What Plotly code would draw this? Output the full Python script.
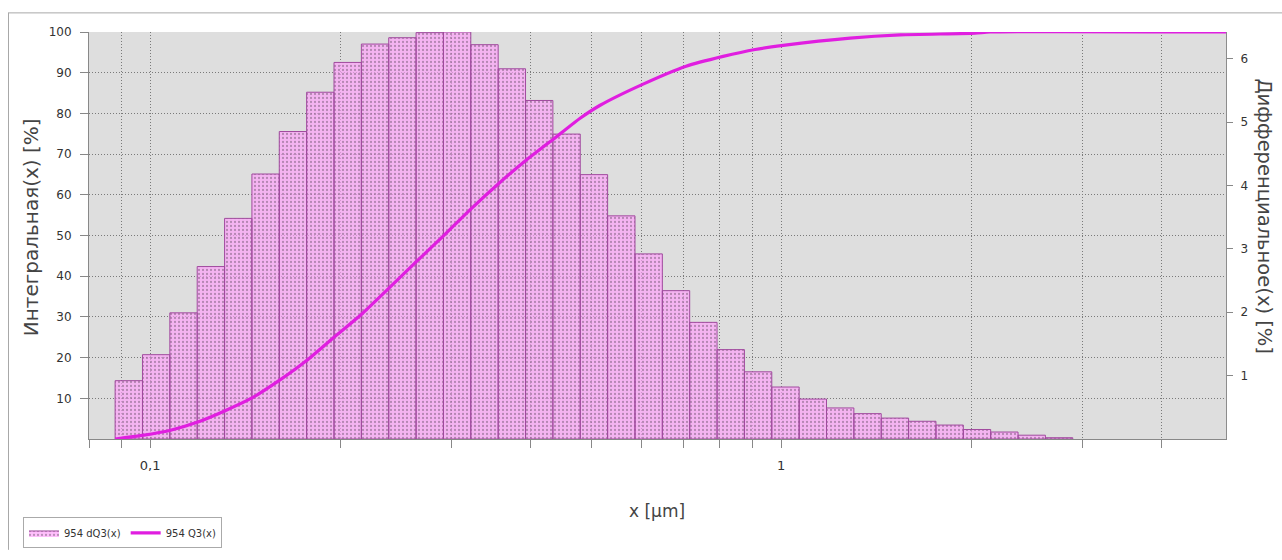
import math
import plotly.graph_objects as go

# ---- data ----
bin_edges_um = [0.08800, 0.09724, 0.10745, 0.11873, 0.13120, 0.14497, 0.16019, 0.17701,
                0.19560, 0.21614, 0.23883, 0.26391, 0.29162, 0.32224, 0.35608, 0.39347,
                0.43478, 0.48043, 0.53088, 0.58662, 0.64822, 0.71628, 0.79149, 0.87460,
                0.96643, 1.06791, 1.18004, 1.30394, 1.44085, 1.59214, 1.75932, 1.94405,
                2.14818, 2.37374, 2.62298, 2.89839]
dq3_values = [0.92, 1.33, 1.99, 2.72, 3.48, 4.18, 4.85, 5.47, 5.94, 6.23, 6.33, 6.41,
              6.42, 6.22, 5.84, 5.34, 4.81, 4.17, 3.52, 2.92, 2.34, 1.84, 1.41, 1.06,
              0.82, 0.63, 0.49, 0.40, 0.33, 0.28, 0.22, 0.15, 0.11, 0.06, 0.02]
q3_x_um = [0.0880, 0.0972, 0.1074, 0.1187, 0.1312, 0.1450, 0.1602, 0.1770, 0.1956,
           0.2161, 0.2388, 0.2639, 0.2916, 0.3222, 0.3587, 0.3929, 0.4416, 0.4802,
           0.5166, 0.6043, 0.7070, 0.8091, 0.9094, 1.0073, 1.286, 1.544, 2.029, 2.144, 5.07]
q3_values = [0.0, 0.9, 2.1, 4.1, 6.9, 10.1, 14.4, 19.3, 25.0, 30.6, 37.0, 43.5, 49.9,
             56.5, 63.1, 68.3, 74.4, 78.8, 82.0, 87.2, 91.6, 94.0, 95.7, 96.7, 98.5,
             99.3, 99.7, 100.0, 100.0]
x_grid_vals = [0.08, 0.09, 0.1, 0.2, 0.3, 0.4, 0.5, 0.6, 0.7, 0.8, 0.9, 1, 2, 3, 4]
x_tick_text = ["", "", "0,1", "", "", "", "", "", "", "", "", "1", "", "", ""]
left_ticks = [10, 20, 30, 40, 50, 60, 70, 80, 90, 100]
right_ticks = [1, 2, 3, 4, 5, 6]

X_RANGE = [math.log10(0.08), math.log10(5.07)]
Y_RANGE = [0, 100]
Y2_MAX = 6.42

FONT = "DejaVu Sans"
TXT = "#333333"
GRID_DASH = "1px,2px"

# build rectangles for histogram
bx, by = [], []
for i, v in enumerate(dq3_values):
    e0, e1 = bin_edges_um[i], bin_edges_um[i + 1]
    bx += [e0, e0, e1, e1, e0, None]
    by += [0, v, v, 0, 0, None]

fig = go.Figure()
# histogram on the base axis "y" (right side, differential %)
fig.add_trace(go.Scatter(
    x=bx, y=by, yaxis="y", mode="lines", fill="toself",
    name="954 dQ3(x)",
    line=dict(color="#a04a9e", width=1),
    fillcolor="rgba(255,160,250,0.68)",
    fillpattern=dict(shape=".", fgcolor="rgba(95,70,95,0.85)",
                     bgcolor="rgba(255,160,250,0.68)", size=4, solidity=0.25),
    hoverinfo="skip",
))
# cumulative curve on overlay axis "y2" (left side, integral %), drawn above the bars
fig.add_trace(go.Scatter(
    x=q3_x_um, y=q3_values, yaxis="y2", mode="lines", name="954 Q3(x)",
    line=dict(color="#e01ee0", width=3.2, shape="spline", smoothing=0.6),
))

fig.update_layout(
    width=1282, height=560,
    margin=dict(l=89, r=56, t=32, b=113),
    paper_bgcolor="white",
    plot_bgcolor="#dedede",
    font=dict(family=FONT, size=11, color=TXT),
    showlegend=True,
    legend=dict(orientation="h", x=(23 - 89) / 1137, y=1 - (527 - 32) / 415,
                xanchor="left", yanchor="top", bgcolor="white",
                bordercolor="#aaaaaa", borderwidth=1,
                font=dict(family=FONT, size=10, color=TXT),
                itemwidth=30, tracegroupgap=0, traceorder="normal"),
    xaxis=dict(type="log", range=X_RANGE, tickmode="array",
               tickvals=x_grid_vals, ticktext=x_tick_text,
               showgrid=True, gridcolor="#7a7a7a", griddash=GRID_DASH, gridwidth=1,
               ticks="outside", ticklen=8, tickcolor="#888888",
               ticklabelstandoff=6,
               showline=True, linecolor="#888888", linewidth=1,
               zeroline=False, tickfont=dict(size=13, color=TXT)),
    yaxis=dict(range=[0, Y2_MAX], side="right",
               tickmode="array", tickvals=right_ticks, showgrid=False,
               ticks="outside", ticklen=6, tickcolor="#888888",
               ticklabelstandoff=5,
               showline=True, linecolor="#8c8c8c", linewidth=1,
               zeroline=False, tickfont=dict(size=12, color=TXT)),
    yaxis2=dict(range=Y_RANGE, overlaying="y", side="left",
                tickmode="array", tickvals=left_ticks,
                showgrid=True, gridcolor="#7a7a7a", griddash=GRID_DASH, gridwidth=1,
                ticks="outside", ticklen=8, tickcolor="#888888",
                ticklabelstandoff=6,
                showline=True, linecolor="#888888", linewidth=1,
                zeroline=False, tickfont=dict(size=12, color=TXT)),
    annotations=[
        dict(text="Интегральная(x) [%]", xref="paper", yref="paper",
             x=(31 - 89) / 1137, y=1 - (231 - 32) / 415, textangle=-90,
             showarrow=False, xanchor="center", yanchor="middle",
             font=dict(family=FONT, size=20, color="#444444")),
        dict(text="Дифференциальное(x) [%]", xref="paper", yref="paper",
             x=(1265 - 89) / 1137, y=1 - (220 - 32) / 415, textangle=90,
             showarrow=False, xanchor="center", yanchor="middle",
             font=dict(family=FONT, size=19.5, color="#444444")),
        dict(text="x [µm]", xref="paper", yref="paper",
             x=(657 - 89) / 1137, y=1 - (520 - 32) / 415,
             showarrow=False, xanchor="center", yanchor="middle",
             font=dict(family=FONT, size=17, color="#444444")),
    ],
    shapes=[
        dict(type="line", xref="paper", yref="paper",
             x0=(8 - 89) / 1137, x1=(1282 - 89) / 1137,
             y0=1 + (32 - 12.5) / 415, y1=1 + (32 - 12.5) / 415,
             line=dict(color="#a8a8a8", width=1)),
        dict(type="line", xref="paper", yref="paper",
             x0=(8.5 - 89) / 1137, x1=(8.5 - 89) / 1137,
             y0=1 + (32 - 12.5) / 415, y1=1 - (560 - 32) / 415,
             line=dict(color="#a8a8a8", width=1)),
    ],
)

fig.write_html("out.html")
